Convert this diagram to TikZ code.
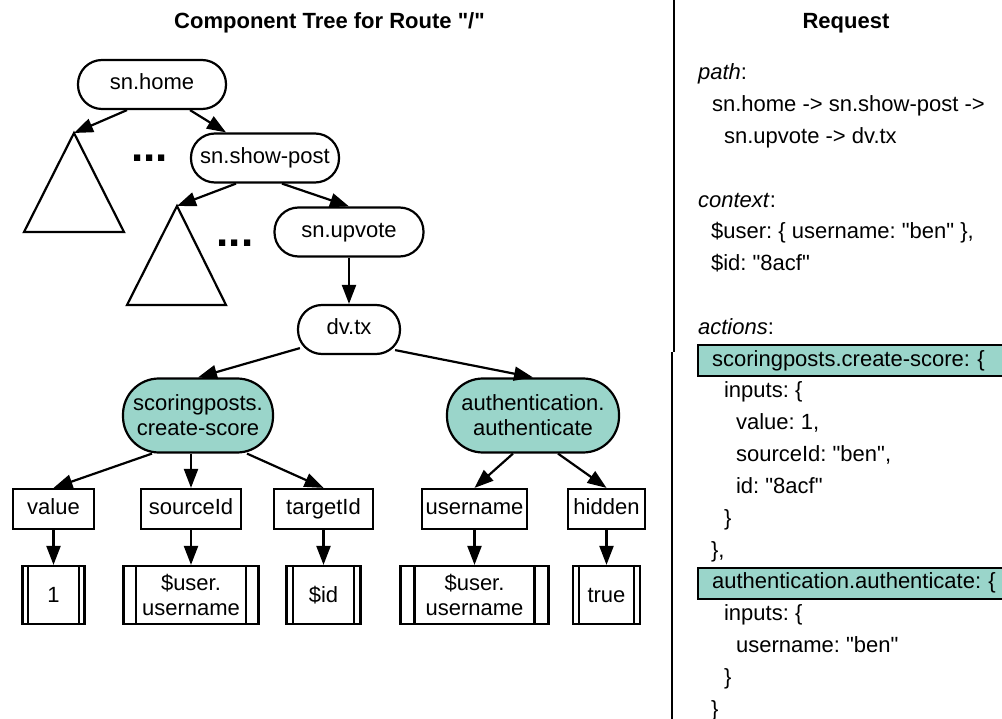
\documentclass[tikz,border=0pt]{standalone}
\usepackage{fontspec}
\setmainfont{Liberation Sans}[Ligatures=TeXOff]
\usetikzlibrary{arrows.meta,calc}
\definecolor{tealfill}{HTML}{9AD5CA}
\frenchspacing
\begin{document}
\begin{tikzpicture}[x=1pt,y=-1pt, line width=2.2pt,
  every node/.style={font=\fontsize{22}{25}\selectfont},
  conn/.style={-{Triangle[length=19pt,width=14pt]}},
  titletext/.style={font=\fontsize{22}{25}\selectfont\bfseries, inner sep=0pt},
  pill/.style={draw, rounded corners=24pt, inner sep=0pt, minimum height=49pt, text height=16pt, text depth=5pt},
  bigpill/.style={draw, fill=tealfill, rounded corners=36pt, inner sep=0pt, minimum height=74pt, align=center},
  leaf/.style={draw, rectangle, inner sep=0pt, minimum height=40pt, text height=16pt, text depth=5pt},
  valbox/.style={draw, rectangle, inner sep=0pt, minimum height=58pt, align=center},
  dots/.style={font=\fontsize{44}{44}\selectfont\bfseries, inner sep=0pt},
  txt/.style={anchor=base west, inner sep=0pt},
  hl/.style={draw, fill=tealfill, anchor=west, inner xsep=14pt, inner ysep=0pt, minimum height=31pt, text width=300pt, align=left, text height=16pt, text depth=5pt}]
\useasboundingbox (0,0) rectangle (1002,719);

% titles
\node[titletext] (title1) at (329.5,23) {Component Tree for Route "/"};
\node[titletext] (title2) at (846,23) {Request};

% divider
\draw (674,0) -- (674,352);
\draw (672,352) -- (672,719);

% upper tree
\node[pill, minimum width=148pt] (home) at (152,84.5) {sn.home};
\node[pill, minimum width=148pt] (showpost) at (265,158) {sn.show-post};
\node[pill, minimum width=149pt] (upvote) at (349,232) {sn.upvote};
\node[pill, minimum width=102pt] (dvtx) at (349,329.5) {dv.tx};

\coordinate (t1) at (74,133);
\coordinate (t2) at (177,206);
\draw (t1) -- (124,232) -- (24,232) -- cycle;
\draw (t2) -- (226,305) -- (127,305) -- cycle;

\node[dots] (dots1) at (149.5,158) {...};
\node[dots] (dots2) at (235,243) {...};

\draw[conn] ([xshift=-25pt]home.south) -- (t1);
\draw[conn] ([xshift=38pt]home.south) -- (showpost.north west -| 226,0);
\draw[conn] ([xshift=-29pt]showpost.south) -- (t2);
\draw[conn] ([xshift=17pt]showpost.south) -- (upvote.north);
\draw[conn] (upvote.south) -- (dvtx.north);

% actions
\node[bigpill, minimum width=150pt] (scoring) at (198,415.5) {scoringposts.\\create-score};
\node[bigpill, minimum width=172pt] (auth) at (533,415.5) {authentication.\\authenticate};

\draw[conn] ([xshift=3pt,yshift=7pt]dvtx.south west) -- (scoring.north);
\draw[conn] ([xshift=-6pt,yshift=5pt]dvtx.south east) -- (auth.north);

% inputs
\node[leaf, minimum width=81pt] (value) at (53.5,509) {value};
\node[leaf, minimum width=100pt] (sourceid) at (191,509) {sourceId};
\node[leaf, minimum width=99pt] (targetid) at (323.5,509) {targetId};
\node[leaf, minimum width=105pt] (username) at (474.5,509) {username};
\node[leaf, minimum width=77pt] (hidden) at (606.5,509) {hidden};

\draw[conn] ([xshift=-46pt]scoring.south) -- (value.north);
\draw[conn] ([xshift=-7pt]scoring.south) -- (sourceid.north);
\draw[conn] ([xshift=49pt]scoring.south) -- (targetid.north);
\draw[conn] ([xshift=-20pt]auth.south) -- (username.north);
\draw[conn] ([xshift=25pt]auth.south) -- (hidden.north);

% values
\node[valbox, minimum width=62pt] (v1) at (53.5,595) {1};
\node[valbox, minimum width=135pt] (v2) at (191,595) {\$user.\\username};
\node[valbox, minimum width=74pt] (v3) at (323.5,595) {\$id};
\node[valbox, minimum width=148pt] (v4) at (474.5,595) {\$user.\\username};
\node[valbox, minimum width=67pt] (v5) at (606.5,595) {true};

\foreach \n in {v1,v2,v3,v4,v5} {
  \draw ($(\n.north west)!0.1!(\n.north east)$) -- ($(\n.south west)!0.1!(\n.south east)$);
  \draw ($(\n.north west)!0.9!(\n.north east)$) -- ($(\n.south west)!0.9!(\n.south east)$);
}

\draw[conn] (value.south) -- (v1.north);
\draw[conn] (sourceid.south) -- (v2.north);
\draw[conn] (targetid.south) -- (v3.north);
\draw[conn] (username.south) -- (v4.north);
\draw[conn] (hidden.south) -- (v5.north);

% request text
\node[txt] (r0) at (697,80) {\textit{path}:};
\node[txt] (r1) at (711,111.8) {sn.home -> sn.show-post ->};
\node[txt] (r2) at (723,143.6) {sn.upvote -> dv.tx};
\node[txt] (r4) at (697,207.2) {\textit{context}:};
\node[txt] (r5) at (710,239) {\$user: \{ username: "ben" \},};
\node[txt] (r6) at (710,270.8) {\$id: "8acf"};
\node[txt] (r8) at (697,334.4) {\textit{actions}:};
\node[hl] (r9) at (697,360.7) {scoringposts.create-score: \{};
\node[txt] (r10) at (723,398) {inputs: \{};
\node[txt] (r11) at (735,429.8) {value: 1,};
\node[txt] (r12) at (735,461.6) {sourceId: "ben",};
\node[txt] (r13) at (735,493.4) {id: "8acf"};
\node[txt] (r14) at (723,525.2) {\}};
\node[txt] (r15) at (710,557) {\},};
\node[hl] (r16) at (697,583.3) {authentication.authenticate: \{};
\node[txt] (r17) at (723,620.6) {inputs: \{};
\node[txt] (r18) at (735,652.4) {username: "ben"};
\node[txt] (r19) at (723,684.2) {\}};
\node[txt] (r20) at (710,716) {\}};
\end{tikzpicture}
\end{document}
